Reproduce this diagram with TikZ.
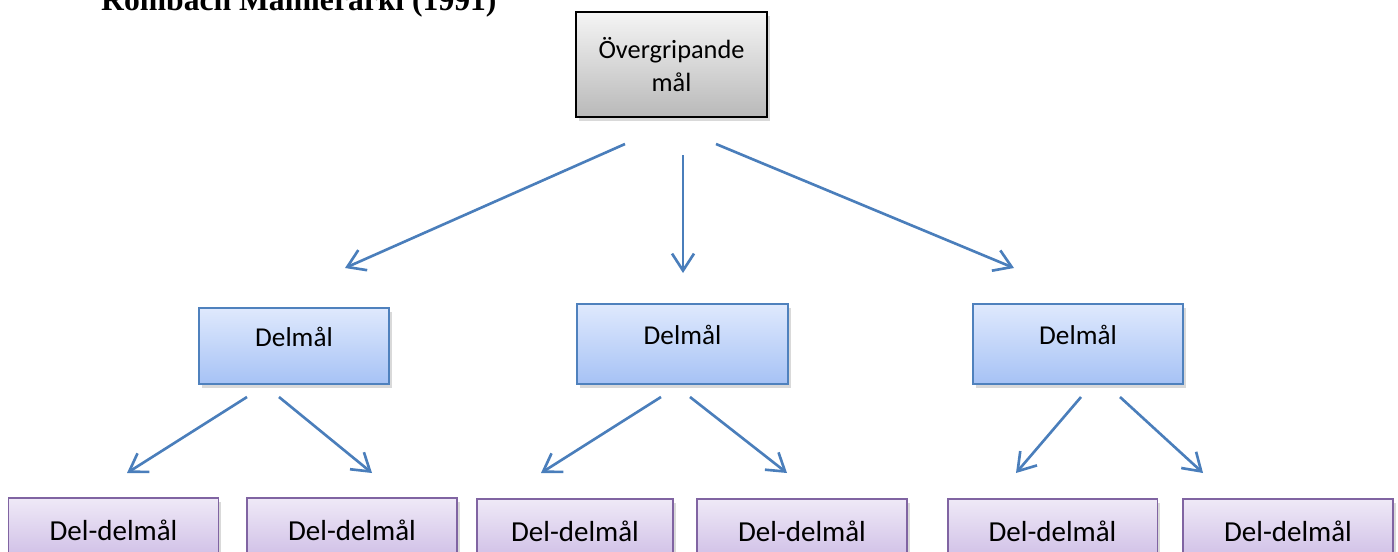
\documentclass[tikz,border=0pt]{standalone}
\usepackage{fontspec}
\setmainfont{Carlito}
\newfontfamily\titlefont{Liberation Serif}
\usetikzlibrary{arrows.meta,shadows}
\definecolor{arrowblue}{HTML}{4A7EBB}
\definecolor{goalline}{HTML}{4F81BD}
\definecolor{goaltop}{HTML}{DFE9FD}
\definecolor{goalbot}{HTML}{A6C2F5}
\definecolor{subline}{HTML}{8064A2}
\definecolor{subtop}{HTML}{EFE9F7}
\definecolor{subbot}{HTML}{C7B4E2}
\begin{document}
\begin{tikzpicture}[x=0.02cm,y=-0.02cm,
	box/.style={draw,line width=1.1pt,align=center,font=\fontsize{15.5}{19}\selectfont,
		drop shadow={shadow xshift=1.5pt,shadow yshift=-2pt,opacity=0.3}},
	topbox/.style={box,draw=black,top color=gray!8,bottom color=gray!55,
		minimum width=3.82cm,minimum height=2.1cm,font=\fontsize{15}{19}\selectfont},
	goalbox/.style={box,draw=goalline,top color=goaltop,bottom color=goalbot,
		text height=0.45cm,text depth=0.45cm},
	subbox/.style={box,draw=subline,top color=subtop,bottom color=subbot,
		minimum width=4.2cm,minimum height=1.52cm,text depth=0.24cm,
		font=\fontsize{16.5}{19}\selectfont},
	arrow/.style={draw=arrowblue,line width=1.5pt,-{Straight Barb[length=3.4mm,width=4.4mm]}}]
	\useasboundingbox (0,0) rectangle (1398,551);
	\node[anchor=base west,font=\titlefont\bfseries\fontsize{18}{20}\selectfont] (title) at (95,10.5) {Rombach Målhierarki (1991)};
	\node[topbox] (mal) at (671.5,64.5) {Övergripande\\mål};
	\node[goalbox,minimum width=3.8cm,minimum height=1.52cm] (d1) at (294,346) {Delmål};
	\node[goalbox,minimum width=4.22cm,minimum height=1.6cm] (d2) at (682.5,344) {Delmål};
	\node[goalbox,minimum width=4.2cm,minimum height=1.6cm] (d3) at (1078,344) {Delmål};
	\node[subbox] (d11) at (113.5,536) {Del-delmål};
	\node[subbox] (d12) at (352,536) {Del-delmål};
	\node[subbox,minimum width=3.92cm] (d21) at (575,537) {Del-delmål};
	\node[subbox] (d22) at (802,537) {Del-delmål};
	\node[subbox] (d31) at (1052.5,537) {Del-delmål};
	\node[subbox] (d32) at (1288,537) {Del-delmål};
	\coordinate (m1) at (625,144);
	\coordinate (m2) at (683,155);
	\coordinate (m3) at (716,144);
	\coordinate (m1e) at (345,268);
	\coordinate (m2e) at (683,273);
	\coordinate (m3e) at (1014,268);
	\coordinate (a11) at (247,397);
	\coordinate (a12) at (279,397);
	\coordinate (a21) at (661,397);
	\coordinate (a22) at (690,397);
	\coordinate (a31) at (1081,397);
	\coordinate (a32) at (1120,397);
	\coordinate (a11e) at (127,473);
	\coordinate (a12e) at (372,473);
	\coordinate (a21e) at (541,473);
	\coordinate (a22e) at (787,473);
	\coordinate (a31e) at (1016,473);
	\coordinate (a32e) at (1203,473);
	\draw[arrow] (m1) -- (m1e);
	\draw[arrow] (m2) -- (m2e);
	\draw[arrow] (m3) -- (m3e);
	\draw[arrow] (a11) -- (a11e);
	\draw[arrow] (a12) -- (a12e);
	\draw[arrow] (a21) -- (a21e);
	\draw[arrow] (a22) -- (a22e);
	\draw[arrow] (a31) -- (a31e);
	\draw[arrow] (a32) -- (a32e);
\end{tikzpicture}
\end{document}
